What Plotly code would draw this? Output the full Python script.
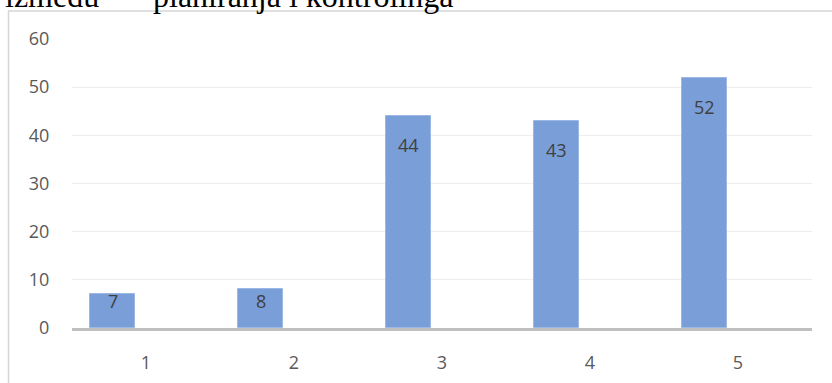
import plotly.graph_objects as go

# Category axis and bar values
categories = [1, 2, 3, 4, 5]
values = [7, 8, 44, 43, 52]
y_ticks = [0, 10, 20, 30, 40, 50, 60]

# Figure geometry (pixels)
W, H = 832, 383
M_L, M_R, M_T, M_B = 72, 20, 39, 55
PLOT_W = W - M_L - M_R
PLOT_H = H - M_T - M_B
Y_MAX = 60


def px_x(px):
    return (px - M_L) / PLOT_W


def px_y(py):
    return (H - M_B - py) / PLOT_H


BAR_COLOR = "#7A9ED8"
TICK_FONT = dict(family="Open Sans, Noto Sans, sans-serif", size=18, color="#595959")
LABEL_FONT = dict(family="Open Sans, Noto Sans, sans-serif", size=18, color="#404040")

fig = go.Figure()
fig.add_trace(go.Bar(
    x=categories,
    y=values,
    width=0.304,
    offset=-0.377,
    marker=dict(color=BAR_COLOR, line=dict(color="#9BB8E5", width=1)),
    hoverinfo="skip",
    showlegend=False,
))

# Value labels inside the top of each bar
annotations = []
px_per_unit = PLOT_H / Y_MAX
for c, v in zip(categories, values):
    bar_px = v * px_per_unit
    drop = min(29, max(7, bar_px - 27))
    annotations.append(dict(
        x=c - 0.377 + 0.152, y=v, xref="x", yref="y",
        text=str(v), showarrow=False, yanchor="middle", xanchor="center",
        yshift=-drop, font=LABEL_FONT,
    ))

# Caption text above the chart frame
SERIF = dict(family="Liberation Serif, Times New Roman, serif", size=32, color="#000000")
annotations.append(dict(
    x=px_x(3), y=px_y(-4), xref="paper", yref="paper", text="između",
    showarrow=False, xanchor="left", yanchor="middle", font=SERIF,
))
annotations.append(dict(
    x=px_x(151), y=px_y(-4), xref="paper", yref="paper", text="planiranja i kontrolinga",
    showarrow=False, xanchor="left", yanchor="middle", font=SERIF,
))

# Chart frame (top and left edges visible)
shapes = [dict(
    type="rect", xref="paper", yref="paper",
    x0=px_x(8.5), x1=px_x(W + 10), y0=px_y(H + 10), y1=px_y(11),
    line=dict(color="#D6D6D6", width=1.5), fillcolor="rgba(0,0,0,0)", layer="below",
)]

fig.update_layout(
    width=W, height=H,
    margin=dict(l=M_L, r=M_R, t=M_T, b=M_B, pad=0, autoexpand=False),
    paper_bgcolor="white", plot_bgcolor="white",
    annotations=annotations, shapes=shapes,
    xaxis=dict(
        range=[0.5, 5.5], tickvals=categories, ticktext=[str(c) for c in categories],
        showgrid=False, zeroline=False, showline=True, linecolor="#BFBFBF", linewidth=2.5,
        ticks="outside", ticklen=17, tickcolor="rgba(0,0,0,0)", tickfont=TICK_FONT,
        fixedrange=True, automargin=False,
    ),
    yaxis=dict(
        range=[0, Y_MAX], tickvals=y_ticks, showgrid=True, gridcolor="#EDEDED", gridwidth=1,
        zeroline=False, showline=False, ticks="outside", ticklen=18,
        tickcolor="rgba(0,0,0,0)", tickfont=TICK_FONT, fixedrange=True, automargin=False,
    ),
    bargap=0,
)

fig.write_html("out.html", config={"displayModeBar": False})
